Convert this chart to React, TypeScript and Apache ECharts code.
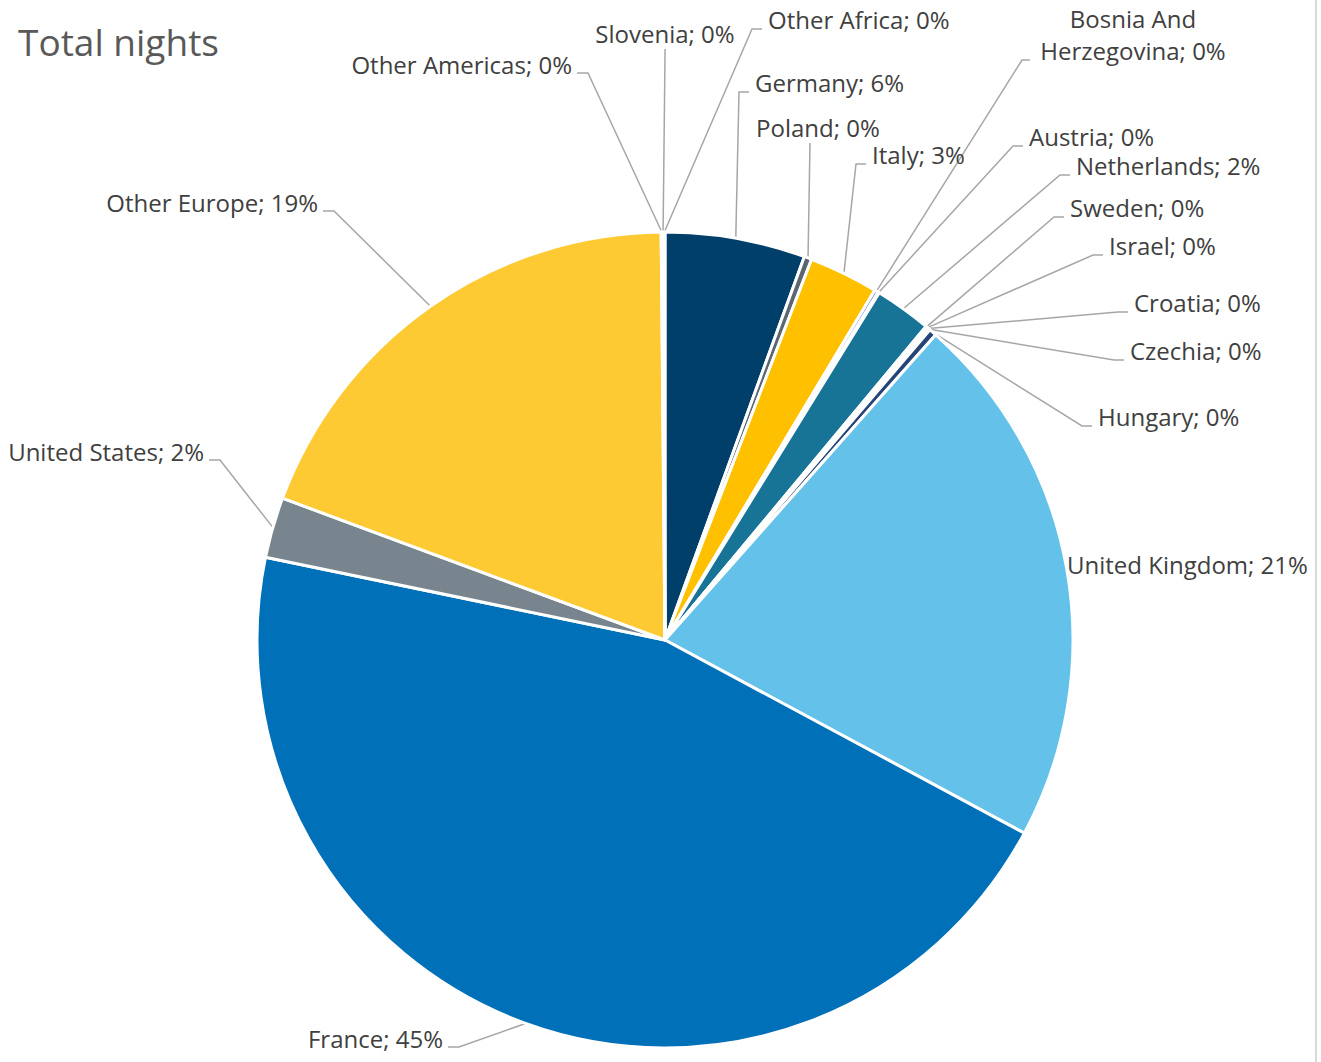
import React, { useEffect, useRef } from "react";
import * as echarts from "echarts";

// ---- data ----
const categories = [
  "Germany", "Poland", "Italy", "Bosnia And Herzegovina", "Austria", "Netherlands",
  "Sweden", "Israel", "Croatia", "Czechia", "Hungary", "United Kingdom", "France",
  "United States", "Other Europe", "Other Americas", "Slovenia", "Other Africa",
];
const shares = [
  5.55, 0.3, 2.75, 0.15, 0.05, 2.25,
  0.05, 0.05, 0.05, 0.05, 0.3, 21.3, 45.4,
  2.4, 19.2, 0.05, 0.05, 0.05,
];
const colors = [
  "#003f69", "#5b6670", "#ffc000", "#4472c4", "#a5a5a5", "#177497",
  "#9e480e", "#636363", "#997300", "#255e91", "#264478", "#64c2ea", "#0070b9",
  "#78858f", "#fdca33", "#43682b", "#698ed0", "#f1975a",
];
const titleText = "Total nights";

// ---- label layout (positions only) ----
// [x, y, align, lineStyle]  lineStyle: "l" left-elbow, "r" right-elbow, "v" vertical, "b" two-line, "n" none
const labelPos: [number, number, string, string][] = [
  [755, 84, "left", "l"],
  [756, 129, "left", "v"],
  [872, 156, "left", "l"],
  [1133, 36, "center", "b"],
  [1029, 138, "left", "l"],
  [1076, 167, "left", "l"],
  [1070, 209, "left", "l"],
  [1109, 247, "left", "l"],
  [1134, 304, "left", "l"],
  [1130, 352, "left", "l"],
  [1098, 418, "left", "l"],
  [1067, 566, "left", "n"],
  [443, 1040, "right", "r"],
  [204, 453, "right", "r"],
  [318, 204, "right", "r"],
  [572, 66, "right", "r"],
  [665, 35, "center", "v"],
  [768, 21, "left", "l"],
];

export default function App() {
  const ref = useRef<HTMLDivElement>(null);
  useEffect(() => {
    document.body.style.margin = "0";
    const chart = echarts.init(ref.current!, undefined, { renderer: "svg" });
    const font = "'Open Sans', 'Noto Sans', sans-serif";
    chart.setOption({
      animation: false,
      backgroundColor: "#ffffff",
      title: {
        text: titleText,
        left: 13,
        top: 18,
        textStyle: { fontFamily: font, fontSize: 37, fontWeight: "normal", color: "#595959" },
      },
      graphic: [
        {
          type: "line",
          shape: { x1: 1316, y1: 0, x2: 1316, y2: 1062 },
          style: { stroke: "#d9d9d9", lineWidth: 2 },
        },
      ],
      series: [
        {
          type: "pie",
          center: [665, 640],
          radius: 408,
          startAngle: 90,
          clockwise: true,
          avoidLabelOverlap: false,
          minShowLabelAngle: 0,
          itemStyle: { borderColor: "#ffffff", borderWidth: 3 },
          label: {
            show: true,
            position: "outside",
            fontFamily: font,
            fontSize: 24,
            lineHeight: 32,
            color: "#404040",
            formatter: (p: any) => {
              const pct = Math.round(p.percent);
              const name = p.name === "Bosnia And Herzegovina" ? "Bosnia And\nHerzegovina" : p.name;
              return `${name}; ${pct}%`;
            },
          },
          labelLine: {
            show: true,
            length: 10,
            length2: 10,
            lineStyle: { color: "#a6a6a6", width: 1.5 },
          },
          labelLayout: (params: any) => {
            const [x, y, align, ls] = labelPos[params.dataIndex];
            const start = params.labelLinePoints ? params.labelLinePoints[0] : [x, y];
            let pts: number[][];
            if (ls === "l") pts = [[x - 6, y + 8], [x - 16, y + 8], start];
            else if (ls === "r") pts = [[x + 5, y + 7], [x + 16, y + 7], start];
            else if (ls === "b") pts = [[x - 103, y + 24], [x - 111, y + 24], start];
            else if (ls === "v") pts = [[start[0] + 2, y + 14], start];
            else pts = [start, start];
            return {
              x,
              y: y - 1.5,
              align,
              verticalAlign: "middle",
              labelLinePoints: pts,
            };
          },
          data: categories.map((name, i) => ({
            name,
            value: shares[i],
            itemStyle: { color: colors[i] },
            labelLine: { show: labelPos[i][3] !== "n" },
          })),
        },
      ],
    });
    return () => chart.dispose();
  }, []);
  return <div ref={ref} style={{ position: "fixed", left: 0, top: 0, width: 1321, height: 1062 }} />;
}
